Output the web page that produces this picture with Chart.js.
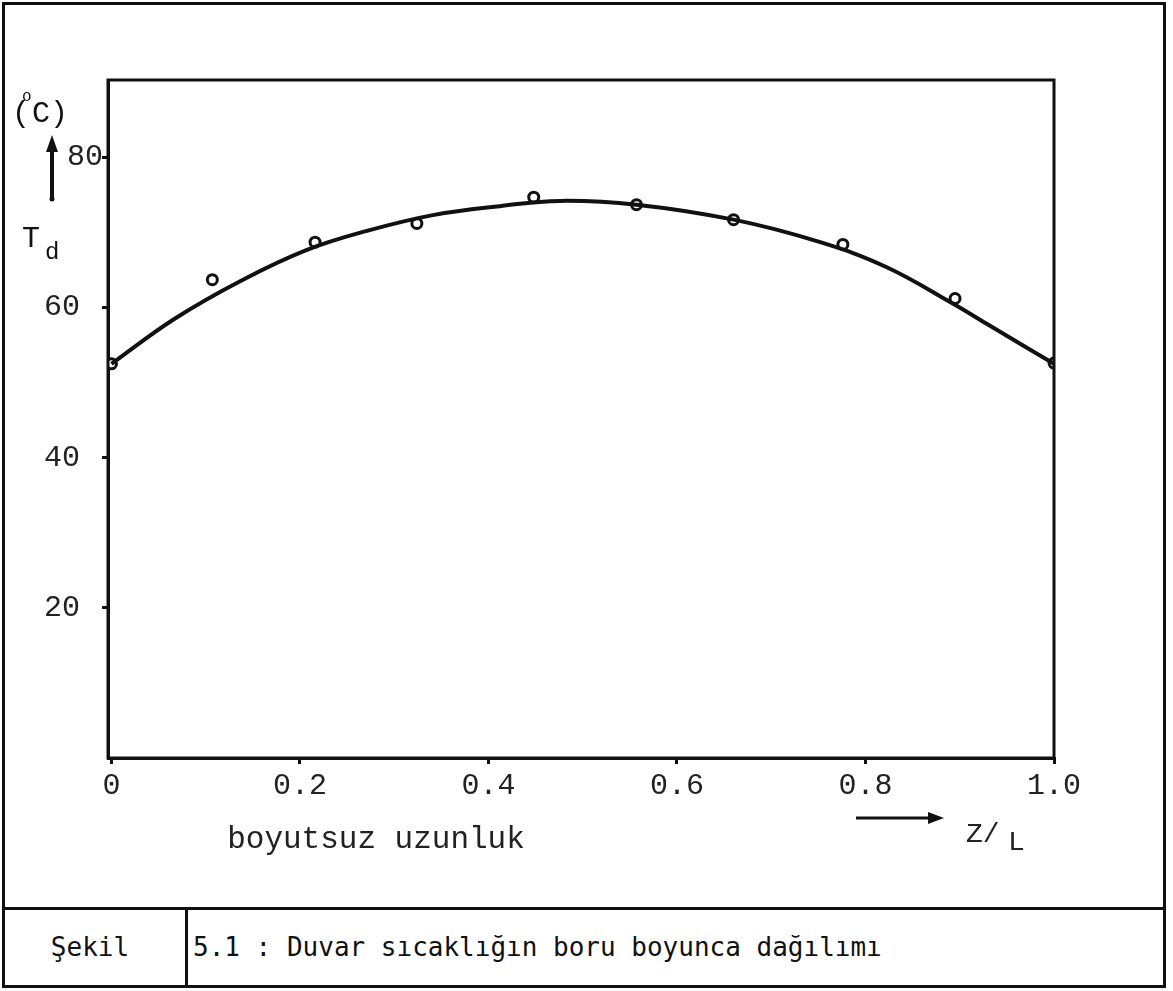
<!DOCTYPE html>
<html><head><meta charset="utf-8">
<script src="https://cdn.jsdelivr.net/npm/chart.js@4.4.1/dist/chart.umd.min.js"></script>
<style>
html,body{margin:0;padding:0;background:#fff;}
#wrap{position:relative;width:1173px;height:991px;overflow:hidden;background:#fff;}
#c{position:absolute;left:0;top:0;}
.frame{position:absolute;left:2px;top:2px;width:1164px;height:986px;border:3px solid #111;box-sizing:border-box;}
.hline{position:absolute;left:2px;top:907px;width:1164px;height:3px;background:#111;}
.vline{position:absolute;left:185px;top:907px;width:3px;height:81px;background:#111;}
.cell{position:absolute;top:929px;font-family:"DejaVu Sans Mono",monospace;font-size:26px;color:#111;line-height:36px;}
</style></head>
<body><div id="wrap">
<div class="frame"></div><div class="hline"></div><div class="vline"></div>
<div class="cell" style="left:5px;width:170px;text-align:center;">Şekil</div>
<div class="cell" style="left:193px;">5.1 : Duvar sıcaklığın boru boyunca dağılımı</div>
<canvas id="c" width="1173" height="991"></canvas>
</div>
<script>
// Measured points (Z/L, T_d in °C)
const pointX = [0.0, 0.107, 0.216, 0.324, 0.448, 0.557, 0.660, 0.776, 0.895, 1.0];
const pointY = [52.5, 63.7, 68.7, 71.2, 74.7, 73.7, 71.7, 68.4, 61.2, 52.6];
// Fitted curve
const curveX = [0.0, 0.067, 0.138, 0.208, 0.271, 0.341, 0.412, 0.476, 0.557, 0.660, 0.752, 0.822, 0.893, 0.929, 1.0];
const curveY = [52.5, 58.5, 63.6, 67.7, 70.2, 72.3, 73.5, 74.2, 73.7, 71.7, 68.7, 65.4, 60.5, 57.8, 52.5];
// Axis ticks
const xTicks = [0, 0.2, 0.4, 0.6, 0.8, 1.0];
const xTickLabels = ['0', '0.2', '0.4', '0.6', '0.8', '1.0'];
const yTicks = [20, 40, 60];
const yTickLabels = ['20', '40', '60'];
const yTopTick = [80];
const yTopTickLabel = ['80'];
const xLabel = 'boyutsuz uzunluk';

const INK = '#111';
const tickFont = {family: '"Liberation Mono", monospace', size: 30};

const annot = {
  id: 'annot',
  afterDraw(chart) {
    const ctx = chart.ctx, a = chart.chartArea;
    ctx.save();
    ctx.strokeStyle = INK; ctx.lineWidth = 3;
    ctx.strokeRect(a.left, a.top, a.right - a.left, a.bottom - a.top);
    ctx.fillStyle = INK;
    // y unit and arrow
    ctx.font = '30px "Liberation Mono", monospace';
    ctx.textBaseline = 'alphabetic'; ctx.textAlign = 'left';
    ctx.fillText('(', 12, 122);
    ctx.fillText('C)', 32, 122);
    ctx.font = '16px "Liberation Mono", monospace';
    ctx.fillText('o', 22, 101);
    ctx.lineWidth = 4;
    ctx.beginPath(); ctx.moveTo(52, 199); ctx.lineTo(52, 150); ctx.stroke();
    ctx.beginPath(); ctx.moveTo(52, 135); ctx.lineTo(46, 152); ctx.lineTo(58, 152); ctx.closePath(); ctx.fill();
    ctx.beginPath(); ctx.arc(52, 199, 2.5, 0, Math.PI * 2); ctx.fill();
    ctx.font = '30px "Liberation Mono", monospace';
    ctx.fillText('T', 22, 247);
    ctx.font = '24px "Liberation Mono", monospace';
    ctx.fillText('d', 45, 259);
    // x axis title
    ctx.font = '31px "Liberation Mono", monospace';
    ctx.textAlign = 'center';
    ctx.fillStyle = '#222';
    ctx.fillText(xLabel, 376, 848);
    // right arrow and Z/L
    ctx.fillStyle = INK;
    ctx.lineWidth = 3;
    ctx.beginPath(); ctx.moveTo(856, 818); ctx.lineTo(930, 818); ctx.stroke();
    ctx.beginPath(); ctx.moveTo(944, 818); ctx.lineTo(928, 812); ctx.lineTo(928, 824); ctx.closePath(); ctx.fill();
    ctx.textAlign = 'left';
    ctx.font = '28px "Liberation Mono", monospace';
    ctx.fillStyle = '#222';
    ctx.fillText('Z/', 966, 842);
    ctx.fillText('L', 1008, 850);
    ctx.restore();
  }
};

const gridOpts = {drawOnChartArea: false, drawTicks: true, tickLength: 6, color: INK, lineWidth: 3};

new Chart(document.getElementById('c'), {
  type: 'scatter',
  data: {
    datasets: [
      {
        type: 'line',
        data: curveX.map((x, i) => ({x, y: curveY[i]})),
        borderColor: INK, borderWidth: 4, pointRadius: 0,
        tension: 0.4, fill: false
      },
      {
        data: pointX.map((x, i) => ({x, y: pointY[i]})),
        pointStyle: 'circle', pointRadius: 5, borderWidth: 3,
        borderColor: INK, backgroundColor: '#fff', showLine: false
      }
    ]
  },
  options: {
    responsive: false, animation: false, devicePixelRatio: 1,
    layout: {padding: {left: 0, top: 80, right: 119, bottom: 0}},
    plugins: {legend: {display: false}, tooltip: {enabled: false}},
    scales: {
      x: {
        type: 'linear', min: -0.0037, max: 1,
        afterFit: s => { s.height = 233; },
        afterBuildTicks: s => { s.ticks = xTicks.map(v => ({value: v})); },
        ticks: {
          callback: (v) => { const i = xTicks.findIndex(t => Math.abs(t - v) < 1e-6); return i >= 0 ? xTickLabels[i] : ''; },
          font: tickFont, color: '#222', padding: 4, maxRotation: 0, autoSkip: false
        },
        grid: gridOpts,
        border: {color: INK, width: 3}
      },
      y: {
        type: 'linear', min: 0, max: 90.3, weight: 1,
        afterFit: s => { s.width = 108; },
        afterBuildTicks: s => { s.ticks = yTicks.map(v => ({value: v})); },
        ticks: {
          callback: (v) => { const i = yTicks.indexOf(v); return i >= 0 ? yTickLabels[i] : ''; },
          font: tickFont, color: '#222', padding: 22
        },
        grid: gridOpts,
        border: {color: INK, width: 3}
      },
      yTop: {
        type: 'linear', position: 'left', min: 0, max: 90.3, weight: 0,
        afterFit: s => { s.width = 0; },
        afterBuildTicks: s => { s.ticks = yTopTick.map(v => ({value: v})); },
        ticks: {
          callback: (v) => { const i = yTopTick.indexOf(v); return i >= 0 ? yTopTickLabel[i] : ''; },
          font: tickFont, color: '#222', mirror: true, crossAlign: 'far', padding: -41
        },
        grid: {drawOnChartArea: false, drawTicks: true, tickLength: 6, color: INK, lineWidth: 3},
        border: {display: false}
      }
    }
  },
  plugins: [annot]
});
</script>
</body></html>
